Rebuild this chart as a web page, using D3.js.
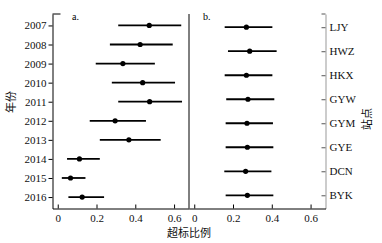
<!DOCTYPE html>
<html>
<head>
<meta charset="utf-8">
<script src="https://cdn.jsdelivr.net/npm/d3@7"></script>
<style>
	body { margin: 0; background: #fff; }
	svg { display: block; }
	.tick text { font-family: "Liberation Serif", "DejaVu Serif", serif; font-size: 11px; fill: #111; }
	.cjk { font-family: "Noto Sans CJK SC", sans-serif; font-size: 11px; fill: #111; }
</style>
</head>
<body>
<div id="chart"></div>
<script>

// panel a: by year
var years = ["2007", "2008", "2009", "2010", "2011", "2012", "2013", "2014", "2015", "2016"];
var yearMean = [0.472, 0.425, 0.336, 0.438, 0.474, 0.296, 0.367, 0.112, 0.066, 0.126];
var yearLow = [0.312, 0.269, 0.196, 0.279, 0.312, 0.165, 0.217, 0.048, 0.021, 0.055];
var yearHigh = [0.637, 0.593, 0.501, 0.605, 0.641, 0.455, 0.531, 0.217, 0.143, 0.239];

// panel b: by station
var stations = ["LJY", "HWZ", "HKX", "GYW", "GYM", "GYE", "DCN", "BYK"];
var stationMean = [0.269, 0.286, 0.269, 0.277, 0.272, 0.274, 0.265, 0.274];
var stationLow = [0.157, 0.174, 0.157, 0.165, 0.162, 0.162, 0.155, 0.162];
var stationHigh = [0.403, 0.425, 0.403, 0.413, 0.406, 0.408, 0.398, 0.408];

var xTicks = [0, 0.2, 0.4, 0.6];

var w = 382, h = 243;
var plotTop = 14, plotBottom = 208.5;
var leftA = 52.5, mid = 189, rightB = 325.5;

var svg = d3.select("#chart")
	.append("svg")
	.attr("width", w)
	.attr("height", h);

var xA = d3.scaleLinear().domain([-0.027, 0.677]).range([leftA, mid]);
var xB = d3.scaleLinear().domain([-0.027, 0.677]).range([mid, rightB]);

var yA = d3.scalePoint().domain(years).range([plotTop, plotBottom]).padding(0.6);
var yB = d3.scalePoint().domain(stations).range([plotTop, plotBottom]).padding(0.55);

function rows(keys, mean, low, high) {
	return keys.map((k, i) => ({ key: k, mean: mean[i], low: low[i], high: high[i] }));
}

function drawBars(data, x, y) {

	var g = svg.append("g");

	g.selectAll("line.bar")
		.data(data)
		.enter()
		.append("line")
		.attr("class", "bar")
		.attr("x1", d => x(d.low))
		.attr("x2", d => x(d.high))
		.attr("y1", d => y(d.key))
		.attr("y2", d => y(d.key))
		.attr("stroke", "#000")
		.attr("stroke-width", 1.8);

	g.selectAll("circle")
		.data(data)
		.enter()
		.append("circle")
		.attr("cx", d => x(d.mean))
		.attr("cy", d => y(d.key))
		.attr("r", 2.6)
		.attr("fill", "#000");
}

drawBars(rows(years, yearMean, yearLow, yearHigh), xA, yA);
drawBars(rows(stations, stationMean, stationLow, stationHigh), xB, yB);

// left axis (years), ticks outward
var axA = svg.append("g")
	.attr("transform", "translate(" + leftA + ",0)")
	.call(d3.axisLeft(yA).tickSize(4).tickSizeOuter(0).tickPadding(2));

axA.select(".domain").attr("stroke", "#000");

// top cap of left axis
svg.append("line")
	.attr("x1", leftA).attr("x2", leftA + 8)
	.attr("y1", plotTop).attr("y2", plotTop)
	.attr("stroke", "#000");

// right axis (stations), ticks inward
var axB = svg.append("g")
	.attr("transform", "translate(" + rightB + ",0)")
	.call(d3.axisRight(yB).tickSize(-4).tickSizeOuter(0).tickPadding(4));

axB.select(".domain").attr("stroke", "#999");
axB.selectAll(".tick line").attr("stroke", "#555");

svg.append("line")
	.attr("x1", rightB).attr("x2", rightB - 4)
	.attr("y1", plotTop).attr("y2", plotTop)
	.attr("stroke", "#555");

// bottom axes, ticks inward
[xA, xB].forEach(function(x) {
	svg.append("g")
		.attr("transform", "translate(0," + plotBottom + ")")
		.call(d3.axisBottom(x).tickValues(xTicks).tickFormat(d3.format("")).tickSize(-4).tickSizeOuter(0).tickPadding(6));
});

// shared divider between panels
svg.append("line")
	.attr("x1", mid).attr("x2", mid)
	.attr("y1", plotTop).attr("y2", plotBottom)
	.attr("stroke", "#000");

// panel tags
svg.append("text")
	.attr("x", 72).attr("y", 20)
	.attr("font-family", "Liberation Serif")
	.attr("font-size", 10)
	.text("a.");

svg.append("text")
	.attr("x", 203).attr("y", 20)
	.attr("font-family", "Liberation Serif")
	.attr("font-size", 10)
	.text("b.");

// axis titles
svg.append("text")
	.attr("class", "cjk")
	.attr("text-anchor", "middle")
	.attr("transform", "translate(15,102) rotate(-90)")
	.text("年份");

svg.append("text")
	.attr("class", "cjk")
	.attr("text-anchor", "middle")
	.attr("transform", "translate(371,119) rotate(-90)")
	.text("站点");

svg.append("text")
	.attr("class", "cjk")
	.attr("text-anchor", "middle")
	.attr("x", 189).attr("y", 237)
	.text("超标比例");

</script>
</body>
</html>
